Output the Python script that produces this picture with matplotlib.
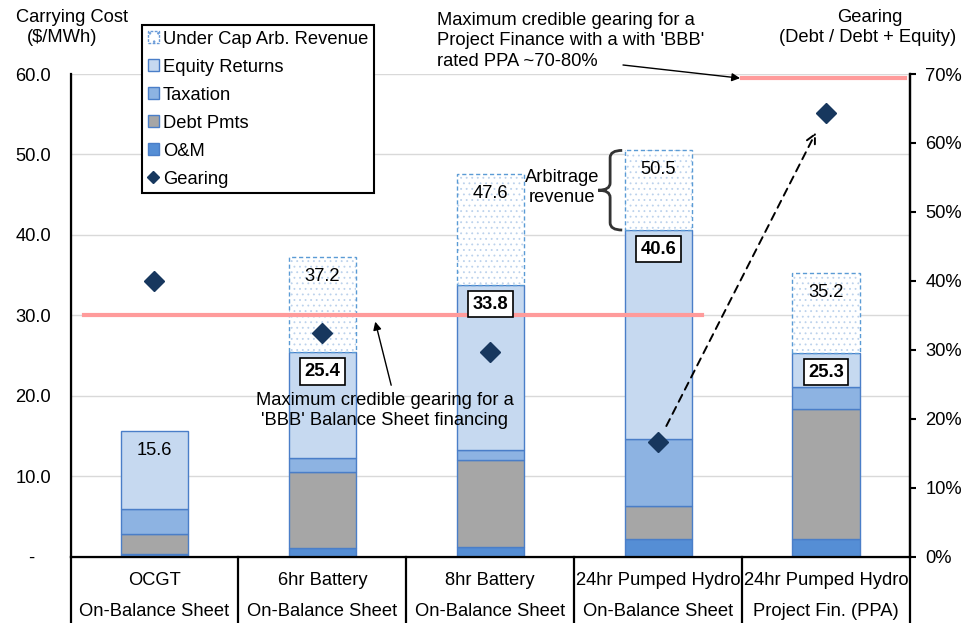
import numpy as np
import matplotlib
matplotlib.use("Agg")
import matplotlib.pyplot as plt
import matplotlib.transforms as mtransforms
from matplotlib.patches import Patch, PathPatch
from matplotlib.lines import Line2D
from matplotlib.path import Path
from matplotlib.ticker import FuncFormatter, PercentFormatter

plt.rcParams['font.family'] = ['Liberation Sans', 'DejaVu Sans']
plt.rcParams['font.size'] = 13.2
plt.rcParams['hatch.linewidth'] = 0.6

# data ($/MWh)
tech = ['OCGT', '6hr Battery', '8hr Battery', '24hr Pumped Hydro', '24hr Pumped Hydro']
financing = ['On-Balance Sheet', 'On-Balance Sheet', 'On-Balance Sheet', 'On-Balance Sheet', 'Project Fin. (PPA)']
om = [0.3, 1.1, 1.2, 2.2, 2.2]
debt_pmts = [2.5, 9.4, 10.8, 4.1, 16.2]
taxation = [3.1, 1.8, 1.3, 8.3, 2.7]
equity = [9.7, 13.1, 20.5, 26.0, 4.2]
under_cap = [0.0, 11.8, 13.8, 9.9, 9.9]
gearing = [0.400, 0.324, 0.296, 0.166, 0.644]

# credible gearing limits (right axis)
bbb_balance_sheet = 0.35
bbb_project_fin = 0.694

c_om = '#558ED5'
c_debt = '#A6A6A6'
c_tax = '#8DB3E2'
c_eq = '#C6D9F0'
c_edge = '#4A7EC8'
c_dot = '#BCD2EC'
c_diamond = '#17375E'
c_red = '#FF9B9B'

x = np.arange(len(tech))
w = 0.4

fig = plt.figure(figsize=(9.66, 6.23), dpi=100)
ax = fig.add_axes([0.073, 0.1067, 0.869, 0.7745])
ax2 = ax.twinx()

bottom = np.zeros(len(x))
for vals, col in [(om, c_om), (debt_pmts, c_debt), (taxation, c_tax), (equity, c_eq)]:
    ax.bar(x, vals, w, bottom=bottom, color=col, edgecolor=c_edge, linewidth=1, zorder=2)
    bottom = bottom + np.array(vals)
eq_top = bottom.copy()

uc = np.array(under_cap)
has_uc = uc > 0
ax.bar(x[has_uc], uc[has_uc], w, bottom=eq_top[has_uc], color='white',
       edgecolor=c_dot, hatch='...', linewidth=0, zorder=2)
ax.bar(x[has_uc], uc[has_uc], w, bottom=eq_top[has_uc], fill=False,
       edgecolor='#5B9BD5', linestyle=(0, (3, 2)), linewidth=1, zorder=2)
total = eq_top + uc

ax.set_xlim(-0.5, 4.5)
ax.set_ylim(0, 60)
ax.set_yticks(np.arange(0, 61, 10))
ax.yaxis.set_major_formatter(FuncFormatter(lambda v, p: '-   ' if v == 0 else f'{v:.1f}'))
ax.tick_params(axis='y', length=0, pad=14)
ax.set_xticks([])
ax.grid(axis='y', color='#D9D9D9', linewidth=1)
ax.set_axisbelow(True)
ax.spines['top'].set_visible(False)
for s in ['left', 'bottom', 'right']:
    ax.spines[s].set_linewidth(1.6)

ax2.set_ylim(0, 0.7)
ax2.set_yticks(np.arange(0, 0.71, 0.1))
ax2.yaxis.set_major_formatter(PercentFormatter(1.0, decimals=0))
ax2.tick_params(axis='y', length=4, width=1.5, pad=7, direction='out')
ax2.spines['top'].set_visible(False)
ax2.spines['right'].set_linewidth(1.6)

# gearing diamonds and limit lines
ax2.plot(x, gearing, linestyle='None', marker='D', markersize=10, color=c_diamond, zorder=4)
ax2.plot([-0.42, 3.26], [bbb_balance_sheet] * 2, color=c_red, linewidth=3, zorder=3)
ax2.plot([3.5, 4.47], [bbb_project_fin] * 2, color=c_red, linewidth=3, zorder=3)
ax2.annotate('', xy=(x[4], gearing[4]), xytext=(x[3], gearing[3]),
             arrowprops=dict(arrowstyle='->', linestyle=(0, (4, 3)), lw=1.4, color='black',
                             shrinkA=13, shrinkB=16, mutation_scale=16), zorder=4)

# value labels
for i in range(len(x)):
    if has_uc[i]:
        ax2.text(x[i], eq_top[i] - 2.4, f'{eq_top[i]:.1f}', transform=ax.transData, ha='center', va='center',
                 fontweight='bold', zorder=6,
                 bbox=dict(boxstyle='square,pad=0.25', facecolor='white', edgecolor='black', linewidth=1.2))
    ax2.text(x[i], total[i] - 2.4, f'{total[i]:.1f}', transform=ax.transData, ha='center', va='center', zorder=6)

# annotations
ax2.text(1.37, 18.2, "Maximum credible gearing for a\n'BBB' Balance Sheet financing", transform=ax.transData,
         ha='center', va='center', linespacing=1.25, zorder=6)
ax2.annotate('', xy=(1.315, 29.2), xycoords=ax.transData, xytext=(1.41, 21.3), textcoords=ax.transData,
             arrowprops=dict(arrowstyle='-|>', color='black', lw=1, shrinkA=0, shrinkB=0, mutation_scale=12))
fig.text(437 / 966, 1 - 12 / 623, "Maximum credible gearing for a\nProject Finance with a with 'BBB'\nrated PPA ~70-80%",
         ha='left', va='top', linespacing=1.25)
ax2.annotate('', xy=(3.488, bbb_project_fin), xytext=(623 / 966, 1 - 65 / 623), textcoords='figure fraction',
             arrowprops=dict(arrowstyle='-|>', color='black', lw=1, shrinkA=0, shrinkB=0, mutation_scale=12))

# brace around arbitrage revenue of pumped hydro
b_lo, b_hi = eq_top[3], total[3]
mid = (b_lo + b_hi) / 2
xv, xr, xt, r = 2.714, 2.786, 2.643, 0.9
verts = [(xr, b_hi), (xv, b_hi), (xv, b_hi - r), (xv, mid + r), (xv, mid), (xt, mid),
         (xv, mid), (xv, mid - r), (xv, b_lo + r), (xv, b_lo), (xr, b_lo)]
codes = [Path.MOVETO, Path.CURVE3, Path.CURVE3, Path.LINETO, Path.CURVE3, Path.CURVE3,
         Path.CURVE3, Path.CURVE3, Path.LINETO, Path.CURVE3, Path.CURVE3]
ax.add_patch(PathPatch(Path(verts, codes), fill=False, edgecolor='#333333', linewidth=2, zorder=5))
ax.text(2.43, 45.9, 'Arbitrage\nrevenue', ha='center', va='center', linespacing=1.25)

# category table below the axis
trans = mtransforms.blended_transform_factory(ax.transData, ax.transAxes)
for b in np.arange(-0.5, 4.6, 1.0):
    ax.plot([b, b], [0, -0.14], transform=trans, color='black', linewidth=1.6, clip_on=False)
for i in range(len(x)):
    ax.text(x[i], -0.049, tech[i], transform=trans, ha='center', va='center')
    ax.text(x[i], -0.113, financing[i], transform=trans, ha='center', va='center')

# axis titles
fig.text(72 / 966, 1 - 18 / 623, 'Carrying Cost', ha='center', va='center')
fig.text(62 / 966, 1 - 38 / 623, '($/MWh)', ha='center', va='center')
fig.text(870 / 966, 1 - 18 / 623, 'Gearing', ha='center', va='center')
fig.text(868 / 966, 1 - 38 / 623, '(Debt / Debt + Equity)', ha='center', va='center')

handles = [
    Patch(facecolor='white', edgecolor='#6A9BD8', hatch='..', linestyle=(0, (2, 1))),
    Patch(facecolor=c_eq, edgecolor=c_edge),
    Patch(facecolor=c_tax, edgecolor=c_edge),
    Patch(facecolor=c_debt, edgecolor=c_edge),
    Patch(facecolor=c_om, edgecolor=c_edge),
    Line2D([], [], marker='D', color=c_diamond, linestyle='None', markersize=6),
]
labels = ['Under Cap Arb. Revenue', 'Equity Returns', 'Taxation', 'Debt Pmts', 'O&M', 'Gearing']
leg = fig.legend(handles, labels, loc='upper left', bbox_to_anchor=(142 / 966, 1 - 25 / 623),
                 borderaxespad=0, fancybox=False, framealpha=1, edgecolor='black',
                 handlelength=0.6, handleheight=0.6, handletextpad=0.25, labelspacing=0.6,
                 borderpad=0.3)
leg.get_frame().set_linewidth(1.5)

fig.savefig('out.png', dpi=100)
